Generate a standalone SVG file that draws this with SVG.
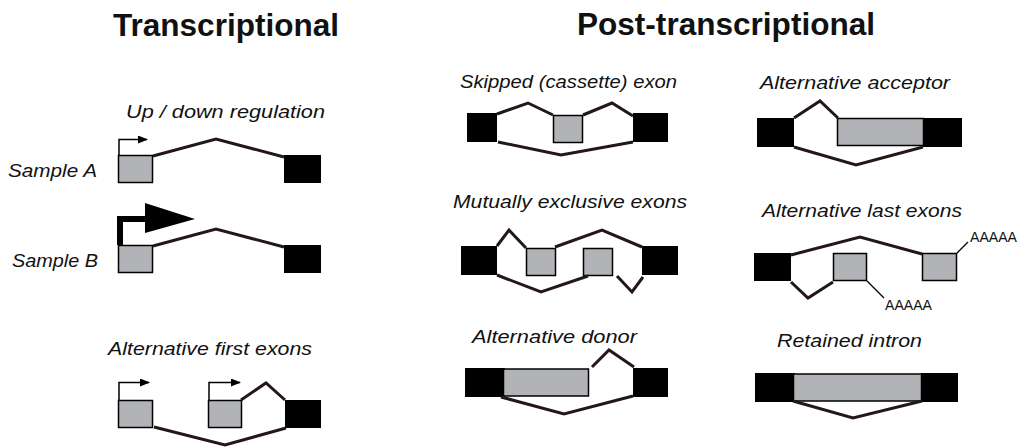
<svg xmlns="http://www.w3.org/2000/svg" width="1019" height="447" viewBox="0 0 1019 447">
<style>
.title{font-family:"Liberation Sans",Arial,sans-serif;font-weight:bold;font-size:32px;fill:#111}
.lbl{font-family:"Liberation Sans",Arial,sans-serif;font-style:italic;font-size:19px;fill:#111}
.pa{font-family:"Liberation Sans",Arial,sans-serif;font-size:14px;fill:#111}
.ex{fill:#000}
.alt{fill:#B1B3B6;stroke:#000;stroke-width:1.5}
.jn{fill:none;stroke:#231815;stroke-width:3;stroke-linejoin:miter}
.tss{fill:none;stroke:#000;stroke-width:1.5}
.thin{fill:none;stroke:#000;stroke-width:1.3}
</style>
<defs>
<marker id="ah" markerWidth="10" markerHeight="8" refX="9" refY="4" orient="auto" markerUnits="userSpaceOnUse">
<path d="M0,0 L10,4 L0,8 Z" fill="#000"/>
</marker>
</defs>
<text class="title" x="113" y="36" textLength="226" lengthAdjust="spacingAndGlyphs">Transcriptional</text>
<text class="title" x="577" y="35" textLength="298" lengthAdjust="spacingAndGlyphs">Post-transcriptional</text>

<g id="updown">
<text class="lbl" x="126" y="118" textLength="199" lengthAdjust="spacingAndGlyphs">Up / down regulation</text>
<text class="lbl" x="8" y="177" textLength="89" lengthAdjust="spacingAndGlyphs">Sample A</text>
<text class="lbl" x="12" y="267" textLength="86" lengthAdjust="spacingAndGlyphs">Sample B</text>
<rect class="alt" x="118.5" y="155.5" width="34" height="27"/>
<rect class="ex" x="284" y="155" width="37" height="28"/>
<rect class="alt" x="118.5" y="245.5" width="34" height="27"/>
<rect class="ex" x="284" y="245" width="37" height="28"/>
<path class="tss" d="M119,155 V139.5 H147" marker-end="url(#ah)"/>
<path d="M120,245 V219 H146" fill="none" stroke="#000" stroke-width="6"/>
<path d="M145,203 L195,219 L145,233 Z" fill="#000"/>
</g>

<g id="altfirst">
<text class="lbl" x="108" y="355" textLength="204" lengthAdjust="spacingAndGlyphs">Alternative first exons</text>
<rect class="alt" x="118.5" y="400.5" width="34" height="27"/>
<rect class="alt" x="208.5" y="400.5" width="33" height="27"/>
<rect class="ex" x="285" y="400" width="36" height="28"/>
<path class="tss" d="M119,400 V382.5 H149" marker-end="url(#ah)"/>
<path class="tss" d="M209,400 V382.5 H240" marker-end="url(#ah)"/>
</g>

<g id="skipped">
<text class="lbl" x="460" y="88" textLength="217" lengthAdjust="spacingAndGlyphs">Skipped (cassette) exon</text>
<rect class="ex" x="467" y="113" width="30" height="29"/>
<rect class="alt" x="553.5" y="115.5" width="29" height="27"/>
<rect class="ex" x="633" y="113" width="35" height="29"/>
</g>

<g id="mutex">
<text class="lbl" x="453" y="208" textLength="234" lengthAdjust="spacingAndGlyphs">Mutually exclusive exons</text>
<rect class="ex" x="461" y="246" width="36" height="29"/>
<rect class="alt" x="526.5" y="248.5" width="29" height="27"/>
<rect class="alt" x="583.5" y="248.5" width="29" height="27"/>
<rect class="ex" x="642" y="246" width="36" height="29"/>
</g>

<g id="donor">
<text class="lbl" x="472" y="343" textLength="165" lengthAdjust="spacingAndGlyphs">Alternative donor</text>
<rect class="ex" x="465" y="368" width="40" height="29"/>
<rect class="alt" x="503.5" y="369" width="85" height="27"/>
<rect class="ex" x="633" y="368" width="35" height="29"/>
</g>

<g id="acceptor">
<text class="lbl" x="760" y="89" textLength="190" lengthAdjust="spacingAndGlyphs">Alternative acceptor</text>
<rect class="ex" x="757" y="118" width="37" height="29"/>
<rect class="alt" x="837.5" y="118.5" width="86" height="27"/>
<rect class="ex" x="923" y="118" width="39" height="29"/>
</g>

<g id="altlast">
<text class="lbl" x="762" y="217" textLength="200" lengthAdjust="spacingAndGlyphs">Alternative last exons</text>
<rect class="ex" x="754" y="253" width="37" height="28"/>
<rect class="alt" x="833.5" y="253.5" width="33" height="27"/>
<rect class="alt" x="922.5" y="253.5" width="34" height="27"/>
<path class="thin" d="M957,253 L968,242"/>
<path class="thin" d="M867,281 L884,298"/>
<text class="pa" x="970" y="242" textLength="47" lengthAdjust="spacingAndGlyphs">AAAAA</text>
<text class="pa" x="885" y="310" textLength="47" lengthAdjust="spacingAndGlyphs">AAAAA</text>
</g>

<g id="retained">
<text class="lbl" x="777" y="347" textLength="145" lengthAdjust="spacingAndGlyphs">Retained intron</text>
<rect class="ex" x="755" y="373" width="40" height="29"/>
<rect class="alt" x="793.5" y="374" width="128" height="27"/>
<rect class="ex" x="921" y="373" width="37" height="29"/>
</g>

<g id="connectors">
<path class="jn" d="M153,156 L216,139 L284,157"/>
<path class="jn" d="M153,246 L216,229 L284,247"/>
<path class="jn" d="M241,400 L266,383 L285,400"/>
<path class="jn" d="M154,427 L225,445 L286,428"/>
<path class="jn" d="M497,114 L528,103 L553,115"/>
<path class="jn" d="M583,115 L612,103 L633,116"/>
<path class="jn" d="M498,142 L561,155 L633,142"/>
<path class="jn" d="M497,246 L509,230 L526,248"/>
<path class="jn" d="M555,247 L602,230 L642,247"/>
<path class="jn" d="M497,275 L541,292 L588,276"/>
<path class="jn" d="M617,276 L632,292 L643,277"/>
<path class="jn" d="M592,367 L609,350 L634,367"/>
<path class="jn" d="M501,397 L564,414 L633,396"/>
<path class="jn" d="M794,118 L820,101 L838,118"/>
<path class="jn" d="M794,147 L856,165 L923,147"/>
<path class="jn" d="M791,255 L860,237 L922,254"/>
<path class="jn" d="M791,282 L808,298 L833,282"/>
<path class="jn" d="M793,401 L853,418 L922,401"/>
</g>
</svg>
